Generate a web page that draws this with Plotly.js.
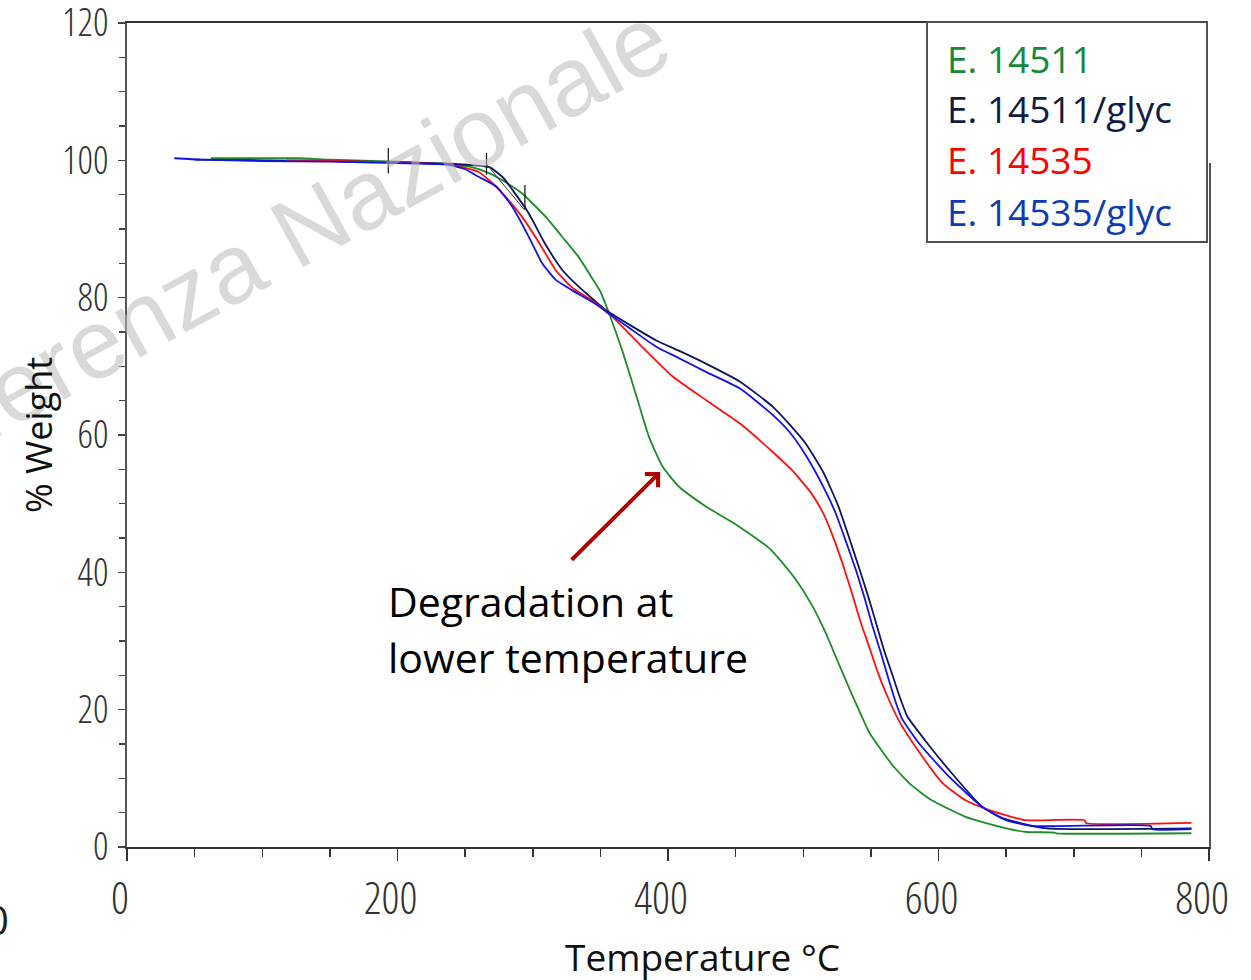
<!DOCTYPE html>
<html>
<head>
<meta charset="utf-8">
<script src="https://cdn.plot.ly/plotly-3.0.1.min.js"></script>
<style>
html,body{margin:0;padding:0;background:#fff;}
#chart{width:1251px;height:980px;}
.xtick text, .ytick text { font-stretch: 75%; }
</style>
</head>
<body>
<div id="chart"></div>
<script>
// ---------- data ----------
const seriesNames = ["E. 14511", "E. 14511/glyc", "E. 14535", "E. 14535/glyc"];

const g14511_T = [62,100,127,150,200,236,255,268,280,292,310,322,334,344,350,357,366,376,386,396,408,428,453,475,482,495,507,517,526,534,544,549,566,580,595,620,645,664,686,687,787];
const g14511_W = [100.3,100.3,100.3,100.1,99.8,99.5,99.0,98.1,96.8,95.2,91.7,88.8,85.9,82.8,80.9,77.4,72.4,66.1,59.7,55.4,52.5,49.6,46.6,43.5,42.0,38.8,35.0,31.0,26.8,23.1,18.7,16.6,11.9,9.0,6.8,4.4,2.96,2.2,2.1,2.0,2.0];

const g14511glyc_T = [50,100,150,200,236,255,268,278,285,297,309,322,334,354,372,391,410,428,453,477,490,502,515,526,534,541,548,554,560,566,572,577,591,610,632,645,662,680,787];
const g14511glyc_W = [100.1,100.0,99.9,99.7,99.5,99.3,99.0,97.5,95.7,92.3,87.9,84.0,81.6,78.2,76.0,73.8,72.1,70.4,67.8,64.2,61.5,58.7,54.5,49.6,45.0,40.8,36.5,32.5,28.5,25.0,21.5,19.0,15.3,10.7,5.9,4.4,3.4,2.7,2.7];

const g14535_T = [118,150,200,236,250,260,270,280,292,305,317,329,346,359,379,403,428,453,477,492,506,515,522,529,536,542,549,555,561,571,583,603,620,637,654,664,708,709,787];
const g14535_W = [100.0,99.9,99.7,99.4,98.9,98.3,96.7,94.7,91.8,87.9,84.0,81.5,79.3,77.2,73.2,68.6,65.1,61.7,57.6,54.8,51.5,48.5,45.2,41.3,37.0,33.0,29.0,25.5,22.5,18.3,14.6,9.3,6.8,5.4,4.4,3.9,3.9,3.5,3.5];

const g14535glyc_T = [35,55,100,150,200,236,250,260,273,285,297,307,317,329,347,354,372,391,408,428,453,477,490,502,516,524,531,539,545,551,557,563,568,573,586,608,632,650,669,757,758,787];
const g14535glyc_W = [100.3,100.1,99.9,99.8,99.6,99.4,98.7,97.6,96.2,93.2,88.9,85.0,82.6,81.1,79.0,78.0,75.5,72.9,71.2,69.2,66.8,63.0,60.4,57.0,52.0,48.6,44.8,40.3,36.5,32.3,28.5,24.5,21.3,18.7,15.0,10.2,5.9,3.9,3.06,3.06,2.6,2.6];

// onset analysis marks (temperature, weight from, weight to)
const onsetT = [193.2, 265.8, 294.2];
const onsetW0 = [98.1, 97.9, 92.8];
const onsetW1 = [101.8, 101.1, 96.4];
const tangentT = [265.6, 293.8];
const tangentW = [99.5, 92.8];

const xTickVals = [0, 200, 400, 600, 800];
const yTickVals = [0, 20, 40, 60, 80, 100, 120];

const annotationLines = ["Degradation at", "lower temperature"];
const watermarkText = "Conferenza Nazionale";
const xTitle = "Temperature °C";
const yTitle = "% Weight";

// ---------- styling ----------
const lineColors = ["#1e8c2a", "#0c1660", "#ff1010", "#1010f0"];
const labelColors = ["#16883c", "#101c44", "#ff0000", "#0b3cb4"];

const W = 1251, H = 980;
const M = {l: 127, r: 42, t: 23, b: 133};
const PW = W - M.l - M.r, PH = H - M.t - M.b;
const px = v => (v - M.l) / PW;          // pixel x -> paper x
const py = v => (H - M.b - v) / PH;      // pixel y -> paper y

const tickFont = "Open Sans, sans-serif";
const textFont = "Open Sans, Lato, sans-serif";

const seriesT = [g14511_T, g14511glyc_T, g14535_T, g14535glyc_T];
const seriesW = [g14511_W, g14511glyc_W, g14535_W, g14535glyc_W];

const traces = seriesNames.map((n, i) => ({
  type: "scatter", mode: "lines", name: n,
  x: seriesT[i], y: seriesW[i],
  line: {color: lineColors[i], width: 1.8, shape: "spline", smoothing: 0.5},
  hoverinfo: "skip"
}));

const shapes = [];
onsetT.forEach((t, i) => shapes.push({
  type: "line", xref: "x", yref: "y", x0: t, x1: t, y0: onsetW0[i], y1: onsetW1[i],
  line: {color: "#111", width: 1.2}
}));
shapes.push({type: "line", xref: "x", yref: "y", x0: tangentT[0], x1: tangentT[1], y0: tangentW[0], y1: tangentW[1],
  line: {color: "#333", width: 1}});
// white cover for upper part of right frame, then legend box
shapes.push({type: "rect", xref: "paper", yref: "paper", x0: px(1203), x1: px(1214), y0: py(163), y1: py(18),
  fillcolor: "#fff", line: {width: 0}, layer: "above"});
shapes.push({type: "rect", xref: "paper", yref: "paper", x0: px(927), x1: px(1207), y0: py(242), y1: py(22),
  fillcolor: "#fff", line: {color: "#505050", width: 2}, layer: "above"});

const annotations = [];
// watermark
annotations.push({xref: "paper", yref: "paper", x: px(237), y: py(265), text: watermarkText,
  showarrow: false, textangle: -29, xanchor: "center", yanchor: "middle",
  font: {family: "Liberation Sans, Arial, sans-serif", size: 98, color: "rgba(185,185,185,0.55)"}});
// legend texts
const legY = [58, 109, 160, 211];
seriesNames.forEach((n, i) => annotations.push({xref: "paper", yref: "paper", x: px(945), y: py(legY[i]),
  text: n, showarrow: false, xanchor: "left", yanchor: "middle",
  font: {family: textFont, size: 37, color: labelColors[i]}}));
// arrow
annotations.push({xref: "x", yref: "y", axref: "x", ayref: "y", x: 394.2, y: 54.6, ax: 327.7, ay: 41.6,
  text: "", showarrow: true, arrowhead: 4, arrowsize: 0.9, arrowwidth: 4, arrowcolor: "#b00000", standoff: 0});
// annotation text
annotations.push({xref: "x", yref: "y", x: 191.5, y: 35.8, text: annotationLines[0], showarrow: false,
  xanchor: "left", yanchor: "middle", font: {family: textFont, size: 41, color: "#000"}});
annotations.push({xref: "x", yref: "y", x: 191.5, y: 27.6, text: annotationLines[1], showarrow: false,
  xanchor: "left", yanchor: "middle", font: {family: textFont, size: 41, color: "#000"}});
// axis titles
annotations.push({xref: "paper", yref: "paper", x: px(702), y: py(956), text: xTitle, showarrow: false,
  xanchor: "center", yanchor: "middle", font: {family: textFont, size: 37, color: "#111"}});
annotations.push({xref: "paper", yref: "paper", x: px(38), y: py(435), text: yTitle, showarrow: false,
  textangle: -90, xanchor: "center", yanchor: "middle", font: {family: textFont, size: 36, color: "#111"}});
// stray clipped label at bottom-left
annotations.push({xref: "paper", yref: "paper", x: px(11), y: py(920), text: "0", showarrow: false,
  xanchor: "right", yanchor: "middle", font: {family: tickFont, size: 40, color: "#222"}});

const layout = {
  width: W, height: H, margin: M,
  paper_bgcolor: "#fff", plot_bgcolor: "#fff",
  showlegend: false, hovermode: false,
  xaxis: {
    range: [0, 800], tickvals: xTickVals, ticktext: xTickVals.map(String),
    showgrid: false, zeroline: false,
    showline: true, linecolor: "#333", linewidth: 2, mirror: true,
    ticks: "outside", ticklen: 12, tickwidth: 1.5, tickcolor: "#333",
    minor: {dtick: 50, ticks: "outside", ticklen: 8, tickwidth: 1.5, tickcolor: "#333", showgrid: false},
    tickfont: {family: tickFont, size: 44, color: "#333", weight: 300},
    ticklabelstandoff: 0, ticklabelshift: -7, ticklabeloverflow: "allow"
  },
  yaxis: {
    range: [0, 120], tickvals: yTickVals, ticktext: yTickVals.map(String),
    showgrid: false, zeroline: false,
    showline: true, linecolor: "#555", linewidth: 2, mirror: true,
    ticks: "outside", ticklen: 7, tickwidth: 1.5, tickcolor: "#444",
    minor: {dtick: 5, ticks: "outside", ticklen: 6, tickwidth: 1.5, tickcolor: "#444", showgrid: false},
    tickfont: {family: tickFont, size: 38, color: "#333", weight: 300},
    ticklabelstandoff: 2, ticklabeloverflow: "allow"
  },
  shapes: shapes,
  annotations: annotations
};

Plotly.newPlot("chart", traces, layout, {displayModeBar: false, staticPlot: true});
</script>
</body>
</html>
